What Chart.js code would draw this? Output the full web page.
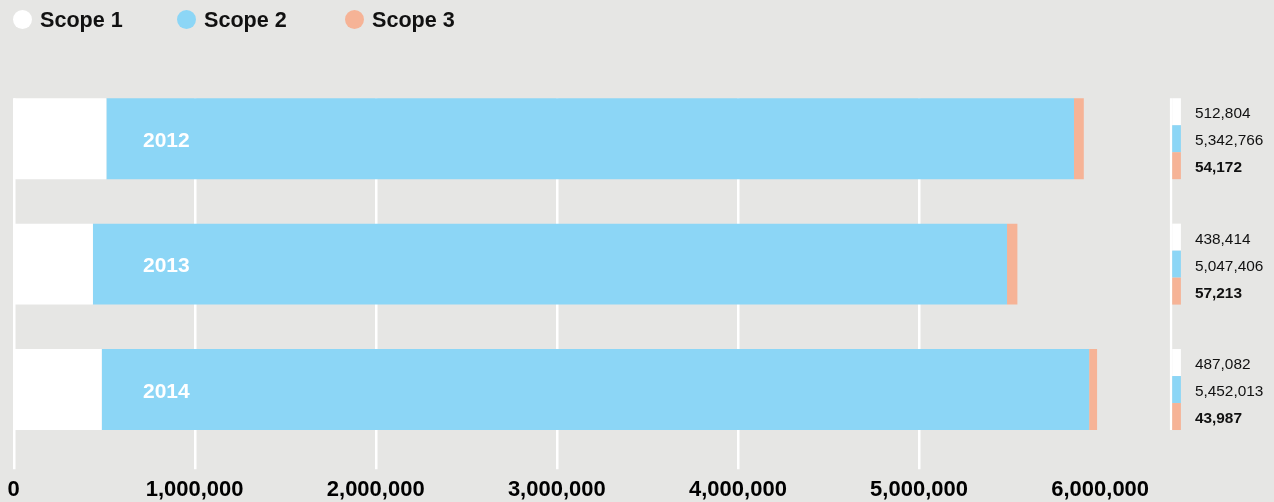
<!DOCTYPE html>
<html>
<head>
<meta charset="utf-8">
<script src="https://cdn.jsdelivr.net/npm/chart.js@4"></script>
<style>
html,body{margin:0;padding:0;background:#e6e6e4;}
#wrap{position:relative;width:1274px;height:502px;background:#e6e6e4;}
#chart{position:absolute;left:0;top:0;}
#legend{position:absolute;left:0;top:0;width:1274px;height:40px;font:bold 21.6px "Liberation Sans",Arial,sans-serif;color:#111;}
.item{position:absolute;top:9.5px;display:flex;align-items:center;white-space:nowrap;line-height:19px;height:19px;}
.dot{width:19px;height:19px;border-radius:50%;margin-right:8.5px;flex:none;}
</style>
</head>
<body>
<div id="wrap">
  <canvas id="chart" width="1274" height="502"></canvas>
  <div id="legend"></div>
</div>
<script>
// ---- data ----
const categories = ['2012', '2013', '2014'];
const seriesNames = ['Scope 1', 'Scope 2', 'Scope 3'];
const scope1 = [512804, 438414, 487082];
const scope2 = [5342766, 5047406, 5452013];
const scope3 = [54172, 57213, 43987];
const xTickValues = [0, 1000000, 2000000, 3000000, 4000000, 5000000, 6000000];

// ---- styles ----
const seriesColors = ['#ffffff', '#8cd6f6', '#f6b396'];
const FONT = '"Liberation Sans", Arial, sans-serif';
const legendLefts = [12.5, 176.5, 344.5];

const fmt = v => Number(v).toLocaleString('en-US');

// HTML legend
const legendEl = document.getElementById('legend');
seriesNames.forEach((name, i) => {
  const it = document.createElement('div');
  it.className = 'item';
  it.style.left = legendLefts[i] + 'px';
  const dot = document.createElement('span');
  dot.className = 'dot';
  dot.style.background = seriesColors[i];
  const tx = document.createElement('span');
  tx.textContent = name;
  it.appendChild(dot); it.appendChild(tx);
  legendEl.appendChild(it);
});

const seriesData = [scope1, scope2, scope3];

const decor = {
  id: 'decor',
  beforeDatasetsDraw(chart) {
    const ctx = chart.ctx;
    const xs = chart.scales.x;
    const meta = chart.getDatasetMeta(0);
    const first = meta.data[0];
    const top = first.y - first.height / 2;
    const bottom = chart.chartArea.bottom + 17;
    ctx.save();
    ctx.strokeStyle = '#ffffff';
    ctx.lineWidth = 2.5;
    // gridlines for every tick except the last one
    xTickValues.slice(0, -1).forEach(v => {
      const x = Math.round(xs.getPixelForValue(v)) + 0.25;
      ctx.beginPath();
      ctx.moveTo(x, top);
      ctx.lineTo(x, bottom);
      ctx.stroke();
    });
    ctx.restore();
  },
  afterDatasetsDraw(chart) {
    const ctx = chart.ctx;
    const meta = chart.getDatasetMeta(0);
    const n = meta.data.length;
    const firstTop = meta.data[0].y - meta.data[0].height / 2;
    const lastBottom = meta.data[n - 1].y + meta.data[n - 1].height / 2;
    const miniX = chart.chartArea.right - 18.5;
    ctx.save();
    // thin vertical rule beside the mini keys
    ctx.fillStyle = '#ffffff';
    ctx.fillRect(miniX - 2.3, firstTop, 2.3, lastBottom - firstTop);
    meta.data.forEach((el, i) => {
      const h = el.height;
      const top = el.y - h / 2;
      const seg = h / 3;
      // year label inside bar
      ctx.fillStyle = '#ffffff';
      ctx.font = 'bold 21px ' + FONT;
      ctx.textAlign = 'left';
      ctx.textBaseline = 'alphabetic';
      ctx.fillText(categories[i], 143, el.y + 0.358 * 21 + 0.8);
      // mini keys and values
      seriesData.forEach((arr, k) => {
        ctx.fillStyle = seriesColors[k];
        ctx.fillRect(miniX, top + k * seg, 8.7, seg);
        ctx.fillStyle = '#111111';
        ctx.font = (k === 2 ? 'bold ' : '') + '15.4px ' + FONT;
        ctx.fillText(fmt(arr[i]), miniX + 22.7, top + k * seg + seg / 2 + 0.358 * 15.4 + 1.1);
      });
    });
    ctx.restore();
  }
};

new Chart(document.getElementById('chart'), {
  type: 'bar',
  data: {
    labels: categories,
    datasets: seriesNames.map((name, k) => ({
      label: name,
      data: seriesData[k],
      backgroundColor: seriesColors[k],
      borderWidth: 0,
      barPercentage: 0.6454,
      categoryPercentage: 1
    }))
  },
  options: {
    indexAxis: 'y',
    responsive: false,
    animation: false,
    devicePixelRatio: 1,
    layout: { padding: { left: 13.5, right: 83.3, top: 76, bottom: 0.9 } },
    plugins: {
      legend: { display: false },
      tooltip: { enabled: false }
    },
    scales: {
      x: {
        stacked: true,
        min: 0,
        max: 6500000,
        border: { display: false },
        grid: { display: false, drawTicks: true, tickLength: 25.85 },
        afterBuildTicks(scale) { scale.ticks = xTickValues.map(v => ({ value: v })); },
        ticks: {
          padding: 0.5,
          maxRotation: 0,
          autoSkip: false,
          color: '#000000',
          font: { family: FONT, size: 22, weight: 'bold', lineHeight: 1 },
          callback: v => fmt(v)
        }
      },
      y: {
        stacked: true,
        display: false,
        grid: { display: false }
      }
    }
  },
  plugins: [decor]
});
</script>
</body>
</html>
